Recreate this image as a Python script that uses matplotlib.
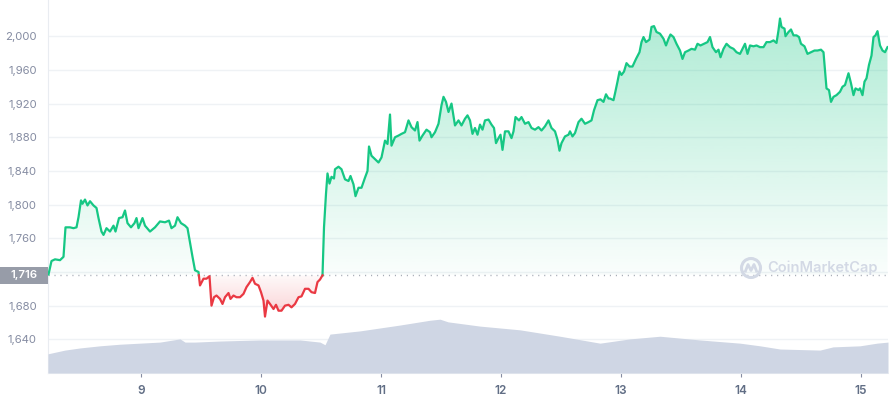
import numpy as np
import matplotlib
matplotlib.use("Agg")
import matplotlib.pyplot as plt
from matplotlib.patches import Circle, Rectangle
from matplotlib.path import Path
from matplotlib import transforms

plt.rcParams['font.family'] = ['Inter', 'DejaVu Sans']

# time axis in hours since day 8, 00:00
price_hours = [
    5.5, 6.1, 6.8, 7.8, 8.5, 8.9, 9.8, 10.5, 11.1, 11.5, 12.0, 12.3, 12.8, 13.3, 13.8,
    14.5, 15.1, 15.5, 16.1, 16.5, 17.1, 17.8, 18.5, 18.9, 19.6, 20.3, 20.8, 21.3, 22.0,
    22.7, 23.1, 23.5, 24.3, 24.8, 25.8, 26.8, 27.8, 28.8, 29.6, 30.1, 30.8, 31.3, 32.0,
    32.8, 33.3, 33.8, 34.3, 34.8, 35.5, 35.8, 36.5, 37.1, 37.7, 38.1, 38.6, 39.1, 39.8,
    40.3, 40.8, 41.5, 41.9, 42.5, 43.1, 43.8, 44.5, 45.1, 45.8, 46.3, 46.8, 47.5, 48.0,
    48.5, 48.8, 49.3, 49.8, 50.5, 51.0, 51.5, 52.1, 52.8, 53.5, 54.1, 54.8, 55.5, 56.1,
    56.8, 57.5, 58.1, 58.8, 59.3, 59.8, 60.3, 60.6, 61.0, 61.3, 61.7, 62.1, 62.6, 62.8,
    63.5, 64.1, 64.8, 65.5, 65.9, 66.5, 66.9, 67.5, 68.1, 68.8, 69.3, 69.6, 70.1, 70.8,
    71.5, 72.1, 72.8, 73.3, 73.8, 74.1, 74.8, 75.5, 76.1, 76.8, 77.5, 78.1, 78.8, 79.3,
    79.7, 80.3, 81.1, 81.8, 82.1, 82.8, 83.5, 84.1, 84.5, 85.0, 85.5, 86.1, 86.8, 87.5,
    88.1, 88.8, 89.3, 89.8, 90.3, 90.8, 91.3, 91.8, 92.3, 92.8, 93.5, 94.1, 94.6, 95.0,
    95.5, 95.9, 96.3, 96.8, 97.5, 98.1, 98.5, 98.9, 99.6, 100.1, 100.8, 101.5, 102.1,
    102.8, 103.5, 104.1, 104.8, 105.5, 106.1, 106.8, 107.3, 107.7, 108.1, 108.8, 109.5,
    109.8, 110.3, 110.8, 111.5, 112.1, 112.8, 113.5, 114.1, 114.6, 115.3, 115.9, 116.5,
    117.0, 117.5, 117.8, 118.5, 118.8, 119.3, 119.7, 120.1, 120.6, 121.1, 121.7, 122.3,
    123.0, 123.7, 124.1, 124.5, 125.0, 125.7, 126.1, 126.6, 127.1, 127.8, 128.5, 129.0,
    129.5, 129.9, 130.5, 131.1, 131.8, 132.3, 132.8, 133.5, 134.1, 134.8, 135.3, 135.9,
    136.6, 137.3, 137.8, 138.3, 139.0, 139.5, 139.9, 140.5, 141.1, 141.8, 142.5, 143.1,
    143.8, 144.3, 144.8, 145.3, 145.8, 146.5, 147.1, 147.8, 148.5, 149.1, 149.8, 150.5,
    151.1, 151.5, 151.8, 152.1, 152.7, 152.9, 153.5, 154.0, 154.5, 155.1, 155.6, 156.0,
    156.7, 157.3, 158.0, 158.7, 159.3, 160.0, 160.5, 160.8, 161.1, 161.6, 162.0, 162.5,
    163.1, 163.8, 164.3, 164.8, 165.5, 166.0, 166.5, 166.9, 167.5, 167.8, 168.3, 168.7,
    169.1, 169.6, 170.1, 170.5, 170.9, 171.3, 171.8, 172.3, 172.8, 173.3,
]
price_values = [
    1717, 1733, 1735, 1734, 1738, 1773, 1773, 1772, 1773, 1785, 1805, 1801, 1806, 1799, 1804,
    1799, 1796, 1784, 1768, 1764, 1772, 1768, 1775, 1768, 1784, 1785, 1793, 1778, 1773,
    1778, 1784, 1772, 1784, 1775, 1768, 1773, 1780, 1779, 1781, 1772, 1775, 1785, 1778,
    1775, 1772, 1755, 1738, 1722, 1720, 1704, 1712, 1712, 1715, 1680, 1690, 1692, 1688,
    1682, 1690, 1695, 1688, 1692, 1690, 1690, 1694, 1702, 1708, 1713, 1706, 1704, 1696,
    1686, 1667, 1686, 1682, 1676, 1681, 1674, 1674, 1680, 1681, 1678, 1682, 1690, 1691,
    1700, 1700, 1696, 1695, 1708, 1711, 1716, 1773, 1813, 1837, 1825, 1833, 1831, 1842,
    1845, 1842, 1830, 1828, 1834, 1824, 1810, 1820, 1820, 1832, 1840, 1869, 1858, 1854,
    1850, 1856, 1876, 1872, 1907, 1870, 1880, 1882, 1884, 1886, 1900, 1892, 1888, 1898,
    1876, 1882, 1889, 1886, 1880, 1886, 1896, 1918, 1928, 1922, 1910, 1920, 1894, 1900,
    1894, 1902, 1906, 1900, 1884, 1891, 1883, 1895, 1889, 1900, 1901, 1895, 1891, 1873,
    1879, 1883, 1865, 1887, 1887, 1879, 1887, 1904, 1900, 1904, 1896, 1898, 1891,
    1889, 1892, 1888, 1893, 1900, 1891, 1887, 1877, 1864, 1873, 1881, 1883,
    1887, 1881, 1885, 1898, 1902, 1896, 1898, 1900, 1912, 1924, 1925, 1922,
    1931, 1926, 1926, 1924, 1932, 1946, 1958, 1954, 1958, 1968, 1964, 1964,
    1973, 1981, 1993, 1999, 1993, 1996, 2011, 2012, 2005, 2003, 1997, 1989,
    1997, 2002, 1999, 1991, 1983, 1973, 1981, 1983, 1985, 1984, 1991, 1989,
    1991, 1993, 1999, 1987, 1981, 1984, 1975, 1985, 1991, 1987, 1985, 1981,
    1979, 1985, 1991, 1979, 1989, 1988, 1989, 1987, 1987, 1993, 1993, 1995,
    1992, 2007, 2021, 2011, 2009, 2000, 2005, 2008, 2001, 2001, 1999, 1991,
    1988, 1979, 1981, 1983, 1983, 1984, 1981, 1960, 1938, 1936, 1922, 1928,
    1930, 1934, 1940, 1942, 1956, 1944, 1930, 1938, 1936, 1938, 1930, 1946,
    1950, 1966, 1977, 1999, 2001, 2006, 1989, 1983, 1981, 1987,
]

volume_hours = [5.4, 8.8, 11.8, 15.8, 19.8, 23.8, 27.8, 31.8, 32.8, 34.8, 39.8, 47.8, 55.8,
                59.8, 60.8, 61.8, 67.8, 75.8, 81.8, 83.8, 85.4, 91.8, 99.8, 107.8, 115.8,
                121.8, 127.8, 135.8, 143.8, 147.8, 151.8, 159.8, 162.4, 167.8, 171.2, 173.4]
volume_values = [3.6, 4.3, 4.7, 5.1, 5.4, 5.6, 5.8, 6.4, 5.8, 5.8, 6.0, 6.2, 6.2,
                 5.8, 5.3, 7.3, 7.9, 9.0, 9.9, 10.1, 9.6, 8.8, 8.1, 6.9, 5.6,
                 6.4, 6.9, 6.2, 5.6, 5.1, 4.5, 4.3, 4.9, 5.1, 5.6, 5.8]

base_price = 1716
day_ticks = [9, 10, 11, 12, 13, 14, 15]
price_ticks = [1640, 1680, 1720, 1760, 1800, 1840, 1880, 1920, 1960, 2000]

green = '#16c784'
red = '#ea3943'
x_min, x_max = 5.4, 173.4
y_min, y_max = 1600, 2043

fig = plt.figure(figsize=(8.89, 4.0), dpi=100)
ax = fig.add_axes([48 / 889, 27 / 400, 840 / 889, 373 / 400])

# volume on a twin axis, drawn over the grid lines
ax2 = ax.twinx()
ax2.fill_between(volume_hours, volume_values, 0, color='#cfd6e4', lw=0)
ax2.set_ylim(0, 70)
ax2.axis('off')

# insert crossing points with the base line
t = np.array(price_hours, dtype=float)
p = np.array(price_values, dtype=float)
tt, pp = [t[0]], [p[0]]
for i in range(1, len(t)):
    a, b = p[i - 1] - base_price, p[i] - base_price
    if a * b < 0:
        tt.append(t[i - 1] + (t[i] - t[i - 1]) * a / (a - b))
        pp.append(base_price)
    tt.append(t[i])
    pp.append(p[i])
tt, pp = np.array(tt), np.array(pp)


def gradient_fill(mask, color, y0, y1, a0, a1):
    poly = ax.fill_between(tt, pp, base_price, where=mask, interpolate=True,
                           color='none', lw=0)
    path = Path.make_compound_path(*poly.get_paths())
    rgb = matplotlib.colors.to_rgb(color)
    img = np.zeros((256, 1, 4))
    img[..., :3] = rgb
    img[..., 3] = np.linspace(a0, a1, 256).reshape(-1, 1)
    im = ax.imshow(img, extent=[x_min, x_max, y0, y1], origin='lower',
                   aspect='auto', zorder=1, interpolation='bilinear')
    im.set_clip_path(path, ax.transData)


gradient_fill(pp >= base_price, green, base_price, 2021, 0.02, 0.34)
gradient_fill(pp <= base_price, red, base_price, 1665, 0.03, 0.24)

up = np.where(pp >= base_price, pp, np.nan)
dn = np.where(pp <= base_price, pp, np.nan)
ax.plot(tt, up, color=green, lw=1.6, zorder=3, solid_joinstyle='round')
ax.plot(tt, dn, color=red, lw=1.6, zorder=3, solid_joinstyle='round')

ax.axhline(base_price, color='#a6abb6', lw=1, linestyle=(0, (0.8, 3.5)), zorder=2)

ax.set_xlim(x_min, x_max)
ax.set_ylim(y_min, y_max)
ax.set_xticks([24 * (d - 8) for d in day_ticks])
ax.set_xticklabels([str(d) for d in day_ticks], fontsize=8.5, fontweight='semibold',
                   color='#616e85')
ax.set_yticks(price_ticks)
ax.set_yticklabels(['' if v == 1720 else f'{v:,}' for v in price_ticks],
                   fontsize=8.2, color='#858ca2')
ax.tick_params(axis='y', length=0, pad=8)
ax.tick_params(axis='x', length=3, color='#858ca2', pad=6)
ax.grid(axis='y', color='#eff2f5', lw=1)
ax.set_axisbelow(True)
for s in ['top', 'right']:
    ax.spines[s].set_visible(False)
ax.spines['left'].set_color('#e9ecf1')
ax.spines['bottom'].set_color('#eff2f5')

# current price box on the left
blend = transforms.blended_transform_factory(fig.transFigure, ax.transData)
ax.add_patch(Rectangle((0, base_price - 10.1), 48 / 889, 20.2, transform=blend,
                       facecolor='#979ca8', edgecolor='none', clip_on=False, zorder=5))
ax.text(24 / 889, base_price, f'{base_price:,}', transform=blend, ha='center', va='center',
        color='white', fontsize=8.2, fontweight='semibold', zorder=6, clip_on=False)

# watermark
ident = transforms.IdentityTransform()
fig.add_artist(Circle((751, 400 - 268), 9.5, transform=ident, fill=False,
                      edgecolor='#d3d9e5', lw=2.2))
wx = np.array([-5.5, -3, 0, 3, 5.5]) + 751
wy = np.array([-3, 3.5, -2.5, 3.5, -3]) + 400 - 268
fig.add_artist(plt.Line2D(wx, wy, transform=ident, color='#d3d9e5', lw=2))
fig.text(767 / 889, 1 - 268 / 400, 'CoinMarketCap', ha='left', va='center',
         fontsize=10.5, fontweight='semibold', color='#d3d9e5')

fig.savefig('out.png', dpi=100)
